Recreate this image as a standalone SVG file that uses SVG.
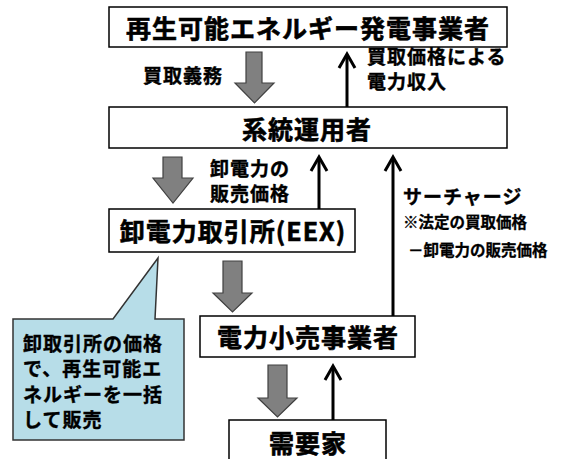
<svg xmlns="http://www.w3.org/2000/svg" width="564" height="459" viewBox="0 0 564 459">
<style>
text{font-family:"Noto Sans CJK JP","Noto Sans CJK SC",sans-serif;font-weight:bold;fill:#000;stroke:#000;stroke-width:0.4}
.box{fill:#fff;stroke:#000;stroke-width:1.5}
.lbl{font-size:25px;letter-spacing:1px;text-anchor:middle;stroke-width:0.6}
.sm{font-size:19px;letter-spacing:1px}
.xs{font-size:15.5px;stroke-width:0.3}
.big{fill:#808080;stroke:#404040;stroke-width:1.2}
.thin{fill:none;stroke:#000;stroke-width:3}
.call{fill:#b7dde8;stroke:#333;stroke-width:1.5}
</style>
<g id="connectors">
<path class="big" d="M246,52 H262 V83 H274 L254.5,103 L235,83 H246 Z"/>
<path class="thin" d="M347,107 V57"/>
<path class="thin" d="M339,68 L347,54 L355,68"/>
<path class="big" d="M163,157 H182 V178 H193 L173,203 L153,178 H163 Z"/>
<path class="thin" d="M319,209 V160"/>
<path class="thin" d="M311,171 L319,157 L327,171"/>
<path class="thin" d="M393,316 V160"/>
<path class="thin" d="M385,171 L393,157 L401,171"/>
<path class="big" d="M223,261 H242 V293 H252 L232.5,312 L213,293 H223 Z"/>
<path class="big" d="M268,365 H287 V398 H297 L277.5,417 L258,398 H268 Z"/>
<path class="thin" d="M333,420 V369"/>
<path class="thin" d="M325,380 L333,366 L341,380"/>
</g>
<g id="labels">
<text class="sm" x="143" y="83">買取義務</text>
<text class="sm" x="367" y="64">買取価格による<tspan x="367" dy="25">電力収入</tspan></text>
<text class="sm" x="210" y="176">卸電力の<tspan x="210" dy="25">販売価格</tspan></text>
<text class="sm" x="403" y="204" letter-spacing="0">サーチャージ</text>
<text class="xs" x="403" y="228">※法定の買取価格</text>
<text class="xs" x="408" y="256">－卸電力の販売価格</text>
</g>
<g id="node-generator">
<rect class="box" x="109" y="7" width="398" height="40"/>
<text class="lbl" x="308" y="37.5">再生可能エネルギー発電事業者</text>
</g>
<g id="node-operator">
<rect class="box" x="109" y="107" width="398" height="41"/>
<text class="lbl" x="307" y="138.5">系統運用者</text>
</g>
<g id="node-eex">
<rect class="box" x="109" y="209" width="246" height="43"/>
<text class="lbl" x="233" y="240.5">卸電力取引所(EEX)</text>
</g>
<g id="node-retailer">
<rect class="box" x="200" y="316" width="215" height="41"/>
<text class="lbl" x="308" y="346.5">電力小売事業者</text>
</g>
<g id="node-consumer">
<rect class="box" x="229" y="420" width="157" height="50"/>
<text class="lbl" x="308" y="452.5">需要家</text>
</g>
<g id="callout">
<path class="call" d="M13,319 H113 L158,258 L155,319 H184 V440 H13 Z"/>
<text class="sm" font-size="20" x="23" y="351">卸取引所の価格<tspan x="23" dy="25">で、再生可能エ</tspan><tspan x="23" dy="26">ネルギーを一括</tspan><tspan x="23" dy="25">して販売</tspan></text>
</g>
</svg>
